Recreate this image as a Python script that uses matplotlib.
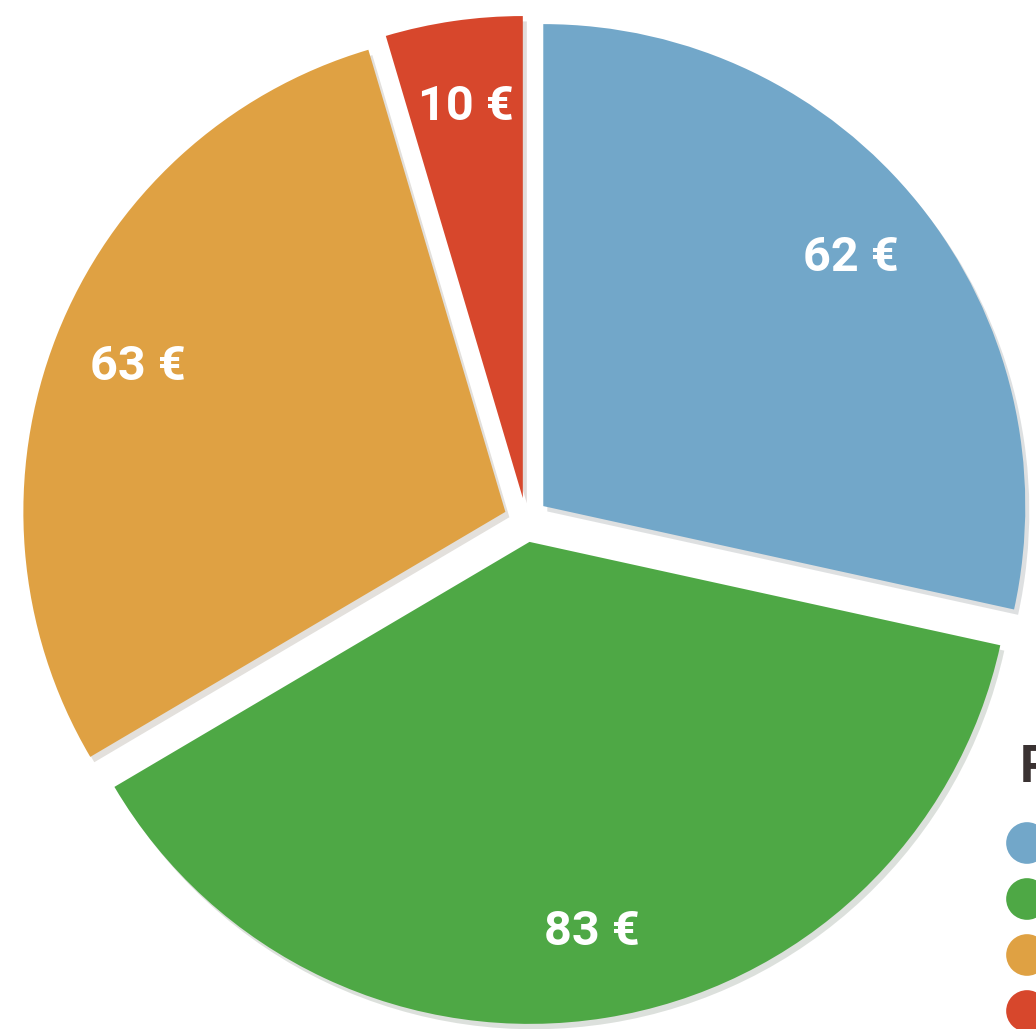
import numpy as np
import matplotlib.pyplot as plt

# slice values (euros), clockwise from 12 o'clock
values = [62, 83, 63, 10]
colors = ['#72a7c9', '#4ea845', '#dfa143', '#d7472c']
legend_title = 'Prix'

W, H = 1036, 1029
cx, cy, R = 526, 520, 482   # pie centre / radius in pixels

fig = plt.figure(figsize=(W / 100, H / 100), dpi=100)
ax = fig.add_axes([0, 0, 1, 1])
ax.axis('off')

total = sum(values)
wedges, texts, autotexts = ax.pie(
    values, colors=colors, startangle=90, counterclock=False,
    explode=[0.046] * len(values), radius=1,
    autopct=lambda p: f'{p * total / 100:.0f} €', pctdistance=0.82,
    shadow={'ox': 0.006, 'oy': -0.008, 'alpha': 0.15},
    wedgeprops={'linewidth': 0},
    textprops={'color': 'white', 'fontsize': 35, 'fontweight': 'bold',
               'family': ['Roboto', 'DejaVu Sans']},
)
ax.set_aspect('equal')
ax.set_xlim(-cx / R, (W - cx) / R)
ax.set_ylim(-(H - cy) / R, cy / R)

# legend (mostly cut off by the right edge, as in the source)
fig.text(1020 / W, 1 - 782 / H, legend_title, color='#3a3232', fontsize=37,
         fontweight='bold', family=['Roboto', 'DejaVu Sans'], ha='left', va='baseline')
dot_y = 843 + 56 * np.arange(len(colors))
ax.scatter((np.full(len(colors), 1027) - cx) / R, (cy - dot_y) / R,
           s=900, c=colors, clip_on=False, linewidths=0)

fig.savefig('out.png', dpi=100, facecolor='white')
